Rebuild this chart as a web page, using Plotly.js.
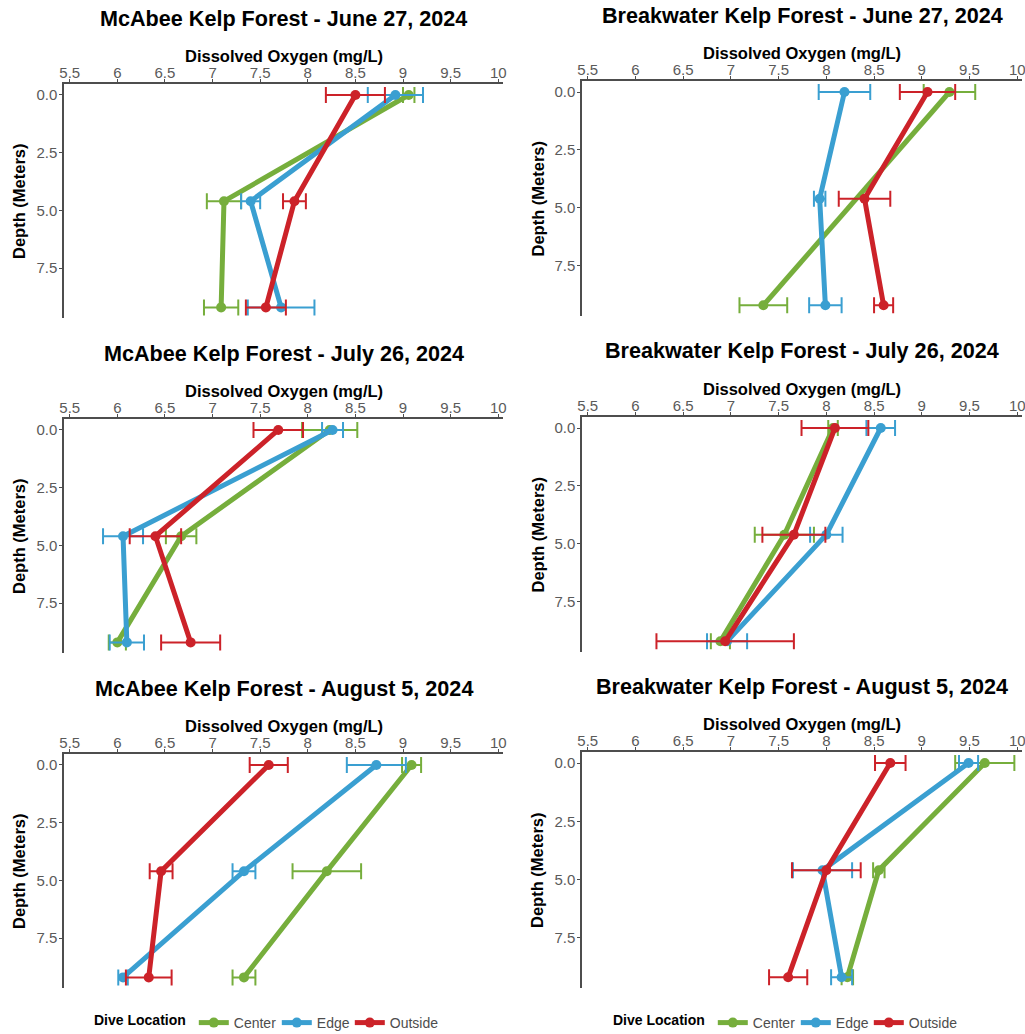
<!DOCTYPE html>
<html>
<head>
<meta charset="utf-8">
<script src="https://cdn.plot.ly/plotly-3.0.1.min.js"></script>
<style>
  html, body { margin: 0; padding: 0; background: #ffffff; }
  #chart { width: 1025px; height: 1034px; }
</style>
</head>
<body>
<div id="chart"></div>
<script>
// ---------------- DATA ----------------
const depths = [0, 4.6, 9.2];
const locations = ["Center", "Edge", "Outside"];
const locationColors = ["#76AE3C", "#3A9FD1", "#CC2229"];

const panelTitles = [
  "McAbee Kelp Forest - June 27, 2024",
  "Breakwater Kelp Forest - June 27, 2024",
  "McAbee Kelp Forest - July 26, 2024",
  "Breakwater Kelp Forest - July 26, 2024",
  "McAbee Kelp Forest - August 5, 2024",
  "Breakwater Kelp Forest - August 5, 2024"
];

// Mean dissolved oxygen (mg/L), rows = Center, Edge, Outside; columns = depths
const mcabeeJun27DO   = [[9.06, 7.12, 7.09], [8.92, 7.40, 7.72], [8.50, 7.86, 7.56]];
const mcabeeJun27SE   = [[0.06, 0.18, 0.18], [0.29, 0.10, 0.35], [0.31, 0.12, 0.21]];
const breakJun27DO    = [[9.29, null, 7.34], [8.19, 7.93, 7.99], [9.06, 8.40, 8.60]];
const breakJun27SE    = [[0.27, null, 0.25], [0.27, 0.06, 0.17], [0.29, 0.27, 0.10]];
const mcabeeJul26DO   = [[8.23, 6.67, 6.00], [8.26, 6.06, 6.10], [7.69, 6.40, 6.77]];
const mcabeeJul26SE   = [[0.29, 0.16, 0.09], [0.11, 0.21, 0.18], [0.26, 0.27, 0.31]];
const breakJul26DO    = [[8.07, 7.56, 6.89], [8.57, 8.00, 6.96], [8.09, 7.66, 6.94]];
const breakJul26SE    = [[0.05, 0.31, 0.10], [0.15, 0.17, 0.21], [0.35, 0.33, 0.72]];
const mcabeeAug5DO    = [[9.09, 8.20, 7.33], [8.72, 7.33, 6.06], [7.59, 6.46, 6.33]];
const mcabeeAug5SE    = [[0.10, 0.36, 0.12], [0.31, 0.12, 0.05], [0.20, 0.12, 0.24]];
const breakAug5DO     = [[9.66, 8.55, 8.22], [9.49, 7.96, 8.16], [8.67, 8.00, 7.60]];
const breakAug5SE     = [[0.31, 0.06, 0.06], [0.10, 0.31, 0.11], [0.16, 0.36, 0.20]];

const xTickVals = [5.5, 6, 6.5, 7, 7.5, 8, 8.5, 9, 9.5, 10];
const xTickText = ["5.5", "6", "6.5", "7", "7.5", "8", "8.5", "9", "9.5", "10"];
const yTickVals = [0, 2.5, 5, 7.5];
const yTickText = ["0.0", "2.5", "5.0", "7.5"];
const xAxisTitle = "Dissolved Oxygen (mg/L)";
const yAxisTitle = "Depth (Meters)";
const legendTitle = "Dive Location";

// ---------------- LAYOUT HELPERS ----------------
const W = 1025, H = 1034;
const FONT = "Liberation Sans, Arial, Helvetica, sans-serif";
const panelData = [
  [mcabeeJun27DO, mcabeeJun27SE], [breakJun27DO, breakJun27SE],
  [mcabeeJul26DO, mcabeeJul26SE], [breakJul26DO, breakJul26SE],
  [mcabeeAug5DO, mcabeeAug5SE],   [breakAug5DO, breakAug5SE]
];
// pixel boxes of plotting areas [left, right, top, bottom]
const boxes = [
  [64, 503, 84, 318], [582, 1022, 81, 316],
  [64, 503, 419, 653], [582, 1022, 417, 652],
  [64, 503, 754, 988], [582, 1022, 752, 988]
];
const titleY = [18, 15, 353, 350, 688, 686];
const legendEntryWidths = [38, 28, 0];

const traces = [];
const legendBase = {
  orientation: "h", xanchor: "left", y: (H - 1023) / H, yanchor: "middle",
  title: {text: "<b>" + legendTitle + "</b>", side: "left", font: {size: 14, color: "#000000", family: FONT}},
  font: {size: 14, color: "#4d4d4d", family: FONT},
  bgcolor: "rgba(0,0,0,0)", itemclick: false, itemdoubleclick: false
};
const layout = {
  width: W, height: H,
  margin: {l: 0, r: 0, t: 0, b: 0, autoexpand: false},
  paper_bgcolor: "#ffffff",
  plot_bgcolor: "#ffffff",
  font: {family: FONT, color: "#000000"},
  showlegend: true,
  annotations: [],
  legend: Object.assign({}, legendBase, {x: 92 / W}),
  legend2: Object.assign({}, legendBase, {x: 611 / W})
};

panelData.forEach((pd, p) => {
  const n = p + 1;
  const xa = "x" + (n === 1 ? "" : n);
  const ya = "y" + (n === 1 ? "" : n);
  const b = boxes[p];
  const [vals, errs] = pd;
  locations.forEach((loc, k) => {
    const isLegendRow = (p === 4 || p === 5);
    const tr = {
      type: "scatter",
      mode: "lines+markers",
      name: loc,
      x: vals[k],
      y: depths,
      xaxis: xa, yaxis: ya,
      connectgaps: true,
      line: {color: locationColors[k], width: 5},
      marker: {color: locationColors[k], size: 10},
      error_x: {type: "data", array: errs[k], visible: true, color: locationColors[k], thickness: 2, width: 8},
      showlegend: isLegendRow,
      legend: p === 5 ? "legend2" : "legend",
      hoverinfo: "x+y+name"
    };
    if (legendEntryWidths[k]) tr.legendwidth = legendEntryWidths[k];
    traces.push(tr);
  });
  layout["xaxis" + (n === 1 ? "" : n)] = {
    domain: [b[0] / W, b[1] / W],
    anchor: ya,
    side: "top",
    range: [5.44, 10.05],
    tickvals: xTickVals, ticktext: xTickText,
    showline: true, linecolor: "#4d4d4d", linewidth: 1.5,
    ticks: "outside", ticklen: 3, tickcolor: "#4d4d4d", tickwidth: 1.2,
    tickfont: {size: 15, color: "#5a5a5a", family: FONT},
    ticklabelstandoff: -5,
    ticklabeloverflow: "allow",
    showgrid: false, zeroline: false, fixedrange: true
  };
  layout["yaxis" + (n === 1 ? "" : n)] = {
    domain: [(H - b[3]) / H, (H - b[2]) / H],
    anchor: xa,
    range: [9.66, -0.475],
    tickvals: yTickVals, ticktext: yTickText,
    showline: true, linecolor: "#4d4d4d", linewidth: 1.5,
    ticks: "outside", ticklen: 3, tickcolor: "#4d4d4d", tickwidth: 1.2,
    tickfont: {size: 15, color: "#5a5a5a", family: FONT},
    ticklabelstandoff: -1,
    ticklabeloverflow: "allow",
    showgrid: false, zeroline: false, fixedrange: true
  };
  // panel title
  layout.annotations.push({
    text: "<b>" + panelTitles[p] + "</b>",
    xref: "paper", yref: "paper",
    x: (b[0] + b[1]) / 2 / W, y: (H - titleY[p]) / H,
    xanchor: "center", yanchor: "middle",
    showarrow: false,
    font: {size: 21.6, color: "#000000", family: FONT}
  });
  // x axis title
  layout.annotations.push({
    text: "<b>" + xAxisTitle + "</b>",
    xref: "paper", yref: "paper",
    x: (b[0] + b[1]) / 2 / W, y: (H - (b[2] - 28)) / H,
    xanchor: "center", yanchor: "middle",
    showarrow: false,
    font: {size: 16.5, color: "#000000", family: FONT}
  });
  // y axis title
  layout.annotations.push({
    text: "<b>" + yAxisTitle + "</b>",
    xref: "paper", yref: "paper",
    x: (b[0] - 45) / W, y: (H - (b[2] + b[3]) / 2) / H,
    xanchor: "center", yanchor: "middle",
    textangle: -90,
    showarrow: false,
    font: {size: 16.5, color: "#000000", family: FONT}
  });
});

Plotly.newPlot("chart", traces, layout, {displayModeBar: false, responsive: false});
</script>
</body>
</html>
